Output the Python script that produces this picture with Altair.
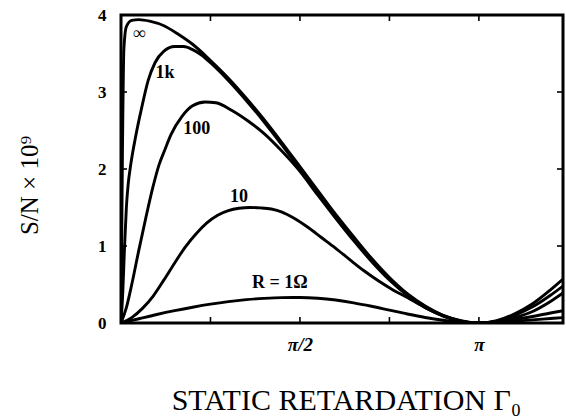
import altair as alt
import pandas as pd

# Plot area size in pixels
W, H = 442, 308

# Static retardation in units of pi, and S/N (x 1e9) for each load resistance
t_inf = [0, 0.004, 0.008, 0.015, 0.03, 0.05, 0.08, 0.12, 0.16, 0.2, 0.25, 0.3, 0.35,
         0.4, 0.45, 0.5, 0.55, 0.6, 0.65, 0.7, 0.75, 0.8, 0.85, 0.9, 0.95, 1.0,
         1.05, 1.1, 1.15, 1.2, 1.235]
v_inf = [0, 2.2, 3.55, 3.85, 3.93, 3.94, 3.92, 3.86, 3.75, 3.62, 3.41, 3.18, 2.92,
         2.64, 2.34, 2.03, 1.72, 1.41, 1.12, 0.84, 0.59, 0.38, 0.22, 0.10, 0.03, 0.0,
         0.03, 0.12, 0.25, 0.43, 0.57]

t_1k = [0, 0.005, 0.01, 0.015, 0.02, 0.027, 0.04, 0.058, 0.076, 0.095, 0.12, 0.15,
        0.175, 0.2, 0.225, 0.25, 0.3, 0.35, 0.4, 0.45, 0.5, 0.55, 0.6, 0.65, 0.7,
        0.75, 0.8, 0.85, 0.9, 0.95, 1.0, 1.05, 1.1, 1.15, 1.2, 1.235]
v_1k = [0, 0.4, 1.0, 1.5, 1.8, 2.05, 2.4, 2.8, 3.15, 3.38, 3.53, 3.59,
        3.59, 3.55, 3.48, 3.38, 3.15, 2.89, 2.61, 2.31, 2.0, 1.69, 1.39, 1.1, 0.82,
        0.57, 0.37, 0.21, 0.095, 0.025, 0.0, 0.025, 0.1, 0.21, 0.36, 0.48]

t_100 = [0, 0.015, 0.03, 0.05, 0.07, 0.09, 0.106, 0.12, 0.14, 0.17, 0.2, 0.235,
         0.265, 0.31, 0.356, 0.4, 0.45, 0.5, 0.55, 0.6, 0.65, 0.7, 0.75, 0.8, 0.85,
         0.9, 0.95, 1.0, 1.05, 1.1, 1.15, 1.2, 1.235]
v_100 = [0, 0.2, 0.5, 0.95, 1.38, 1.78, 2.05, 2.22, 2.45, 2.68, 2.82, 2.87,
         2.86, 2.76, 2.62, 2.46, 2.23, 1.97, 1.66, 1.36, 1.07, 0.8, 0.56, 0.36, 0.2,
         0.09, 0.02, 0.0, 0.02, 0.07, 0.15, 0.28, 0.39]

t_10 = [0, 0.03, 0.06, 0.09, 0.12, 0.15, 0.18, 0.21, 0.24, 0.27, 0.3, 0.33, 0.36,
        0.39, 0.42, 0.45, 0.48, 0.52, 0.56, 0.6, 0.64, 0.68, 0.72, 0.76, 0.8, 0.85,
        0.9, 0.95, 1.0, 1.05, 1.1, 1.15, 1.2, 1.235]
v_10 = [0, 0.07, 0.19, 0.35, 0.56, 0.78, 0.99, 1.16, 1.3, 1.4, 1.46, 1.49, 1.5,
        1.495, 1.48, 1.44, 1.37, 1.25, 1.11, 0.97, 0.82, 0.675, 0.545, 0.43, 0.33, 0.2,
        0.095, 0.025, 0.0, 0.015, 0.045, 0.085, 0.13, 0.16]

t_1 = [0, 0.05, 0.1, 0.15, 0.2, 0.25, 0.3, 0.35, 0.4, 0.45, 0.5, 0.55, 0.6, 0.65,
       0.7, 0.75, 0.8, 0.85, 0.9, 0.95, 1.0, 1.05, 1.1, 1.15, 1.2, 1.235]
v_1 = [0, 0.055, 0.11, 0.16, 0.205, 0.245, 0.278, 0.303, 0.32, 0.33, 0.332, 0.322,
       0.298, 0.262, 0.217, 0.167, 0.117, 0.072, 0.036, 0.01, 0.0, 0.01, 0.024,
       0.04, 0.058, 0.07]

curves = [("inf", t_inf, v_inf), ("1k", t_1k, v_1k), ("100", t_100, v_100),
          ("10", t_10, v_10), ("1", t_1, v_1)]

# Curve annotations
label_text = ["∞", "1k", "100", "10", "R = 1Ω"]
label_t = [0.052, 0.123, 0.212, 0.330, 0.444]
label_v = [3.75, 3.25, 2.52, 1.64, 0.52]

# Tick positions
x_ticks = [0.25, 0.5, 0.75, 1.0]
x_labeled = [0.5, 1.0]
y_ticks = [1, 2, 3]
y_labeled = [0, 1, 2, 3, 4]

rows = []
for name, ts, vs in curves:
    for t, v in zip(ts, vs):
        rows.append({"curve": name, "t": t, "v": v})
df = pd.DataFrame(rows)

labels_df = pd.DataFrame({"text": label_text, "t": label_t, "v": label_v})
xt_df = pd.DataFrame({"t": x_ticks})
yt_df = pd.DataFrame({"v": y_ticks})

SERIF = "Liberation Serif"
x_scale = alt.Scale(domain=[0, 1.235], nice=False, zero=False)
y_scale = alt.Scale(domain=[0, 4], nice=False)

x_axis = alt.Axis(
    values=x_labeled,
    labelExpr="datum.value == 0.5 ? 'π/2' : 'π'",
    title="STATIC RETARDATION Γ₀",
    ticks=False, tickSize=0, domain=False, grid=False,
    labelFont=SERIF, labelFontSize=19, labelFontWeight="bold",
    labelFontStyle="italic", labelColor="black", labelPadding=12,
    titleFont=SERIF, titleFontSize=30, titleFontWeight="normal",
    titleColor="black", titleX=225, titleY=86, titleBaseline="alphabetic",
    titleAlign="center",
)
y_axis = alt.Axis(
    values=y_labeled, format="d",
    title="S/N × 10⁹",
    ticks=False, tickSize=0, domain=False, grid=False,
    labelFont=SERIF, labelFontSize=17, labelFontWeight="bold",
    labelColor="black", labelPadding=15,
    titleFont=SERIF, titleFontSize=25, titleFontWeight="normal",
    titleColor="black", titleX=-92, titleY=170, titleAngle=270,
    titleAlign="center", titleBaseline="middle",
)

X = alt.X("t:Q", scale=x_scale, axis=x_axis)
Y = alt.Y("v:Q", scale=y_scale, axis=y_axis)

lines = alt.Chart(df).mark_line(
    color="black", strokeWidth=2.9, interpolate="monotone", clip=True
).encode(x=X, y=Y, detail="curve:N")

text = alt.Chart(labels_df).mark_text(
    font=SERIF, fontSize=18, fontWeight="bold", color="black",
    align="center", baseline="middle"
).encode(x=X, y=Y, text="text:N")

# Inward tick marks on all four sides
tick_len = 6
bottom_ticks = alt.Chart(xt_df).mark_rule(color="black", strokeWidth=1.6).encode(
    x=X, y=alt.value(H), y2=alt.value(H - tick_len),
)
top_ticks = alt.Chart(xt_df).mark_rule(color="black", strokeWidth=1.6).encode(
    x=X, y=alt.value(0), y2=alt.value(tick_len),
)
left_ticks = alt.Chart(yt_df).mark_rule(color="black", strokeWidth=1.6).encode(
    y=Y, x=alt.value(0), x2=alt.value(tick_len),
)
right_ticks = alt.Chart(yt_df).mark_rule(color="black", strokeWidth=1.6).encode(
    y=Y, x=alt.value(W), x2=alt.value(W - tick_len),
)

chart = alt.layer(
    lines, text, bottom_ticks, top_ticks, left_ticks, right_ticks
).properties(
    width=W, height=H,
    autosize=alt.AutoSizeParams(type="none"),
    padding={"left": 121, "top": 15, "right": 3, "bottom": 96},
    background="white",
).configure_view(
    stroke="black", strokeWidth=3
)

chart.save("out.html", embed_options={"renderer": "svg", "actions": False})
